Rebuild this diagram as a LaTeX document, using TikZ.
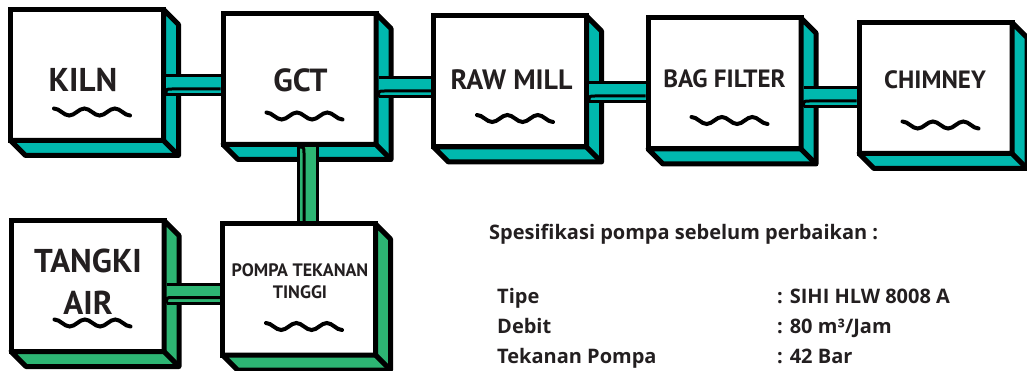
\documentclass[tikz,border=0pt]{standalone}
\usepackage{fontspec}
\setmainfont{PT Sans}[BoldFont={PT Sans Bold}]
\newfontfamily\specfont{Open Sans}
\usetikzlibrary{positioning,calc}
\definecolor{KilnTeal}{HTML}{00B8AE}
\definecolor{PumpGreen}{HTML}{2DB573}
\definecolor{LabelInk}{HTML}{231F20}

% depth faces behind a unit
\newcommand{\slab}[2]{%
  \filldraw[slab, fill=#2] (#1.north east) -- ++(15,15) -- ([shift={(15,15)}]#1.south east)
    -- ([shift={(15,15)}]#1.south west) -- (#1.south west) -- (#1.south east) -- cycle;
  \draw[slab] (#1.south east) -- ++(15,15);}
% little wave under a label
\newcommand{\ripple}[1]{%
  \draw[ripple] ([shift={(-33,33.5)}]#1.center)
    cos ++(7.6,3.5) sin ++(7.6,3.5) cos ++(7.6,-3.5) sin ++(7.6,-3.5)
    cos ++(7.6,3.5) sin ++(7.6,3.5) cos ++(7.6,-3.5) sin ++(7.6,-3.5)
    cos ++(7.6,3.5) sin ++(7.6,3.5);}
% pipes: from, to, offset, colour
\newcommand{\hpipe}[4]{%
  \draw[pipe=#4] ($(#1.east)+(2.5,#3)$) -- ($(#1.east -| #2.west)+(-2.5,#3)$);
  \draw[seam] ($(#1.east)+(2.5,#3+9.5)$) .. controls ($(#1.east)+(2.5,#3+3.5)$)
    .. ($(#1.east)+(8.5,#3+3.5)$) -- ($(#1.east -| #2.west)+(-2.5,#3+3.5)$);}
\newcommand{\vpipe}[4]{%
  \draw[pipe=#4] ($(#1.south)+(#3,2.5)$) -- ($(#1.south |- #2.north)+(#3,-2.5)$);
  \draw[seam] ($(#1.south)+(#3-9.5,2.5)$) .. controls ($(#1.south)+(#3-3.5,2.5)$)
    .. ($(#1.south)+(#3-3.5,8.5)$) -- ($(#1.south |- #2.north)+(#3-3.5,-2.5)$);}

\begin{document}
\begin{tikzpicture}[
  x=1pt, y=-1pt,
  node distance=59pt,
  unit/.style={draw=black, line width=5pt, fill=white, minimum width=153pt,
    minimum height=131pt, inner sep=0pt, outer sep=0pt},
  slab/.style={draw=black, line width=5pt, line join=round},
  pipe/.style={draw=black, line width=3pt, double=#1, double distance=16pt},
  seam/.style={draw=black, line width=3pt},
  ripple/.style={draw=black, line width=4pt, line cap=round},
  tag/.style={text=LabelInk, align=center, inner sep=0pt}
]
\useasboundingbox (0,0) rectangle (1027,371);
\node[unit] (kiln) at (87,75) {};
\node[unit, right=59.5pt of kiln, yshift=-4pt] (gct) {};
\node[unit, right=57.5pt of gct, yshift=-2.5pt] (rawmill) {};
\node[unit, right=61.5pt of rawmill, yshift=-2pt] (bagfilter) {};
\node[unit, right=58pt of bagfilter, yshift=-4.5pt] (chimney) {};
\node[unit, below=79.5pt of gct, xshift=-0.5pt] (pompa) {};
\node[unit, left=58.5pt of pompa, yshift=3.5pt] (tangki) {};
\slab{kiln}{KilnTeal}
\slab{gct}{KilnTeal}
\slab{rawmill}{KilnTeal}
\slab{bagfilter}{KilnTeal}
\slab{chimney}{KilnTeal}
\slab{pompa}{PumpGreen}
\slab{tangki}{PumpGreen}
\hpipe{kiln}{gct}{10.5}{KilnTeal}
\hpipe{gct}{rawmill}{8.5}{KilnTeal}
\hpipe{rawmill}{bagfilter}{11}{KilnTeal}
\hpipe{bagfilter}{chimney}{14}{KilnTeal}
\hpipe{tangki}{pompa}{8}{PumpGreen}
\vpipe{gct}{pompa}{8}{PumpGreen}
\node[tag, anchor=base, font=\bfseries\fontsize{33}{40}\selectfont] (kiln-tag) at ($(kiln.center)+(-4,17)$) {KILN};
\node[tag, anchor=base, font=\bfseries\fontsize{32}{40}\selectfont] (gct-tag) at ($(gct.center)+(1,13)$) {GCT};
\node[tag, anchor=base, font=\bfseries\fontsize{28}{34}\selectfont] (rawmill-tag) at ($(rawmill.center)+(1.5,8.5)$) {RAW MILL};
\node[tag, anchor=base, font=\bfseries\fontsize{25}{30}\selectfont] (bagfilter-tag) at ($(bagfilter.center)+(0,4.5)$) {BAG FILTER};
\node[tag, anchor=base, font=\bfseries\fontsize{25}{30}\selectfont] (chimney-tag) at ($(chimney.center)+(-0.5,1)$) {CHIMNEY};
\node[tag, anchor=base, font=\bfseries\fontsize{33}{42}\selectfont] (tangki-tag) at ($(tangki.center)+(0.5,28)$) {TANGKI\\AIR};
\node[tag, anchor=base, font=\bfseries\fontsize{18}{21}\selectfont] (pompa-tag) at ($(pompa.center)+(1,8.5)$) {POMPA TEKANAN\\TINGGI};
\ripple{kiln}
\ripple{gct}
\ripple{rawmill}
\ripple{bagfilter}
\ripple{chimney}
\ripple{tangki}
\ripple{pompa}
\node[tag, anchor=base west, font=\specfont\bfseries\fontsize{20}{30}\selectfont] (spec-title) at (489,240) {Spesifikasi pompa sebelum perbaikan :};
\node[tag, anchor=base west, align=left, font=\specfont\bfseries\fontsize{20}{30}\selectfont] (spec) at (497,303) {%
  \begin{tabular}[t]{@{}p{280pt}@{}l@{}}
  Tipe & : SIHI HLW 8008 A\\
  Debit & : 80 m³/Jam\\
  Tekanan Pompa & : 42 Bar
  \end{tabular}};
\end{tikzpicture}
\end{document}
